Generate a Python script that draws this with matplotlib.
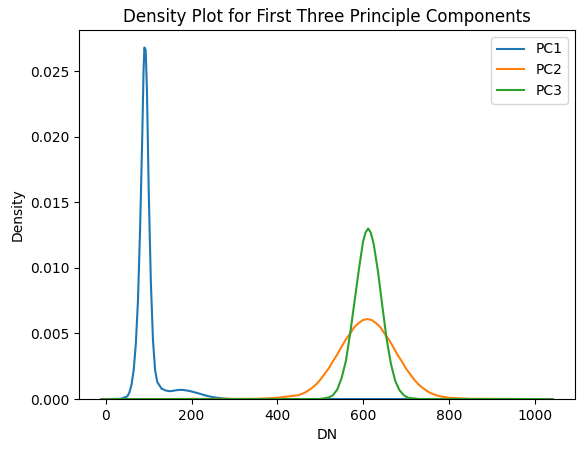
import matplotlib
matplotlib.use('Agg')
import matplotlib.pyplot as plt

# Curves
pc1_x = [-10, 35, 50, 55, 60, 65, 70, 75, 80, 85, 88, 90, 93, 96, 100, 105, 110, 115, 120, 130,
         140, 150, 160, 170, 180, 190, 200, 215, 230, 245, 260, 280, 300, 1042]
pc1_y = [0, 0.00002, 0.0002, 0.0005, 0.0011, 0.0022, 0.0042, 0.0075, 0.013, 0.020, 0.025, 0.0268,
         0.0266, 0.0235, 0.016, 0.009, 0.0045, 0.0022, 0.0013, 0.0008, 0.00065, 0.0006, 0.00065,
         0.0007, 0.0007, 0.00065, 0.00058, 0.00045, 0.0003, 0.00018, 0.0001, 0.00003, 0, 0]

pc2_x = [-10, 350, 400, 425, 450, 465, 480, 490, 500, 510, 520, 530, 540, 550, 560, 570, 580, 590,
         600, 610, 620, 630, 640, 650, 660, 670, 680, 690, 700, 710, 720, 730, 740, 755, 770, 785,
         800, 850, 1042]
pc2_y = [0, 0.00002, 0.0001, 0.0002, 0.0003, 0.0005, 0.00083, 0.0011, 0.00146, 0.0019, 0.00234,
         0.0029, 0.0034, 0.004, 0.00454, 0.0050, 0.0055, 0.0058, 0.00603, 0.0061, 0.00603, 0.0058,
         0.0055, 0.0050, 0.00454, 0.004, 0.0034, 0.0029, 0.00234, 0.0019, 0.00146, 0.0011,
         0.00083, 0.0005, 0.0003, 0.00018, 0.0001, 0.00002, 0]

pc3_x = [-10, 450, 500, 520, 530, 540, 550, 560, 570, 580, 590, 600, 606, 612, 618, 625, 635, 645,
         655, 665, 675, 685, 695, 705, 730, 1042]
pc3_y = [0, 0, 0.00001, 0.00012, 0.0003, 0.00073, 0.0016, 0.0029, 0.0050, 0.0074, 0.0098, 0.012,
         0.0127, 0.013, 0.0127, 0.0118, 0.0097, 0.0071, 0.0046, 0.0027, 0.0014, 0.00068, 0.0003,
         0.0001, 0.00001, 0]

fig, ax = plt.subplots(figsize=(5.85, 4.53), dpi=100)
fig.subplots_adjust(left=0.135, right=0.983, top=0.934, bottom=0.119)
ax.plot(pc1_x, pc1_y, label='PC1')
ax.plot(pc2_x, pc2_y, label='PC2')
ax.plot(pc3_x, pc3_y, label='PC3')
ax.set_ylim(bottom=0)
ax.set_title('Density Plot for First Three Principle Components')
ax.set_xlabel('DN')
ax.set_ylabel('Density')
ax.legend(loc='upper right')
plt.savefig('out.png')
